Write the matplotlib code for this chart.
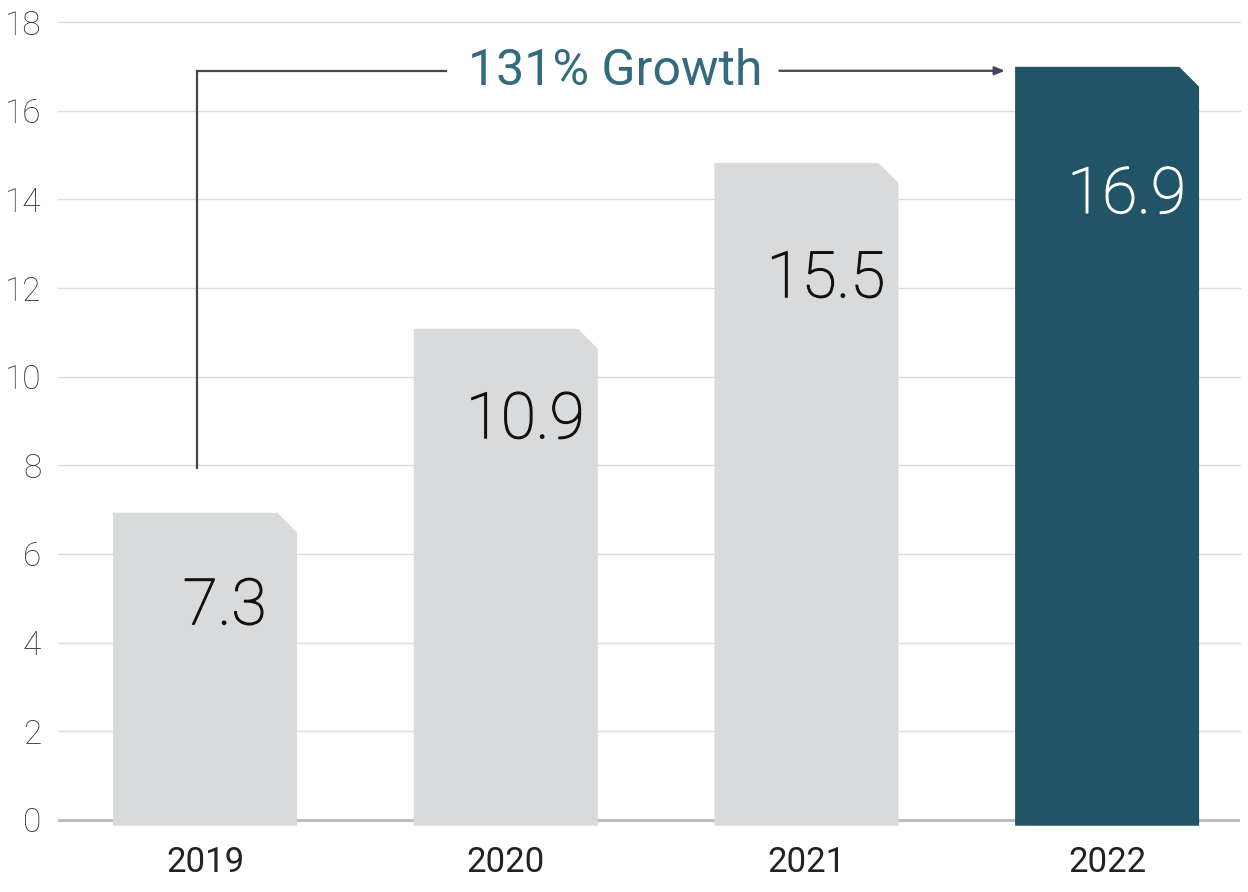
import matplotlib
matplotlib.use('Agg')
from matplotlib import pyplot as plt
from matplotlib.patches import Polygon
from matplotlib import patheffects as pe

# bar heights as drawn, and the numbers printed on them
years = ['2019', '2020', '2021', '2022']
heights = [6.93, 11.08, 14.82, 16.99]
value_labels = ['7.3', '10.9', '15.5', '16.9']
label_y = [4.82, 9.02, 12.2, 14.1]
yticks = [0, 2, 4, 6, 8, 10, 12, 14, 16, 18]
growth_text = '131% Growth'

gray = '#d9dadc'
teal = '#225468'
bar_colors = [gray, gray, gray, teal]
text_colors = ['#111111', '#111111', '#111111', '#ffffff']

plt.rcParams['font.family'] = ['Roboto', 'DejaVu Sans']

fig = plt.figure(figsize=(12.48, 8.92), dpi=100)
ax = fig.add_axes([0.0465, 0.0733, 0.9471, 0.902])
ax.set_xlim(-0.489, 3.442)
ax.set_ylim(-0.15, 18)

# bars with a clipped top right corner
w = 0.612
cut_x = 0.066
cut_y = 0.45
bottom = -0.13
for i, h in enumerate(heights):
    x0 = i - w / 2
    x1 = i + w / 2
    pts = [(x0, bottom), (x0, h), (x1 - cut_x, h), (x1, h - cut_y), (x1, bottom)]
    ax.add_patch(Polygon(pts, closed=True, facecolor=bar_colors[i],
                         edgecolor='none', zorder=3))
    t = ax.text(i + 0.065, label_y[i], value_labels[i], ha='center', va='center',
                fontsize=46, fontweight='light', color=text_colors[i], zorder=4)
    t.set_path_effects([pe.withStroke(linewidth=0.9, foreground=text_colors[i])])

# grid + baseline
for t in yticks[1:]:
    ax.axhline(t, color='#dcdcdc', lw=1, zorder=1, clip_on=False)
ax.axhline(0, color='#bdbdbf', lw=2.2, zorder=2)

for s in ax.spines.values():
    s.set_visible(False)
ax.set_yticks(yticks)
ax.set_yticklabels([str(t) for t in yticks], fontsize=24, color='#333333',
                   fontweight='light')
ax.set_xticks(range(len(years)))
ax.set_xticklabels(years, fontsize=25, color='#222222')
ax.tick_params(axis='y', length=0, pad=12)
ax.tick_params(axis='x', length=0, pad=14)

# growth annotation
line_c = '#444455'
x_start = -0.027
y_line = 16.9
ax.plot([x_start, x_start, 0.8], [7.94, y_line, y_line], color=line_c,
        lw=1.6, zorder=5, solid_joinstyle='miter')
ax.text(1.363, y_line, growth_text, ha='center', va='center', fontsize=36,
        color='#336a7d', zorder=5)
ax.annotate('', xy=(2.66, y_line), xytext=(1.91, y_line),
            arrowprops=dict(arrowstyle='-|>,head_length=0.6,head_width=0.25',
                            color=line_c, lw=1.6, shrinkA=0, shrinkB=0),
            zorder=5)

fig.savefig('out.png', dpi=100)
